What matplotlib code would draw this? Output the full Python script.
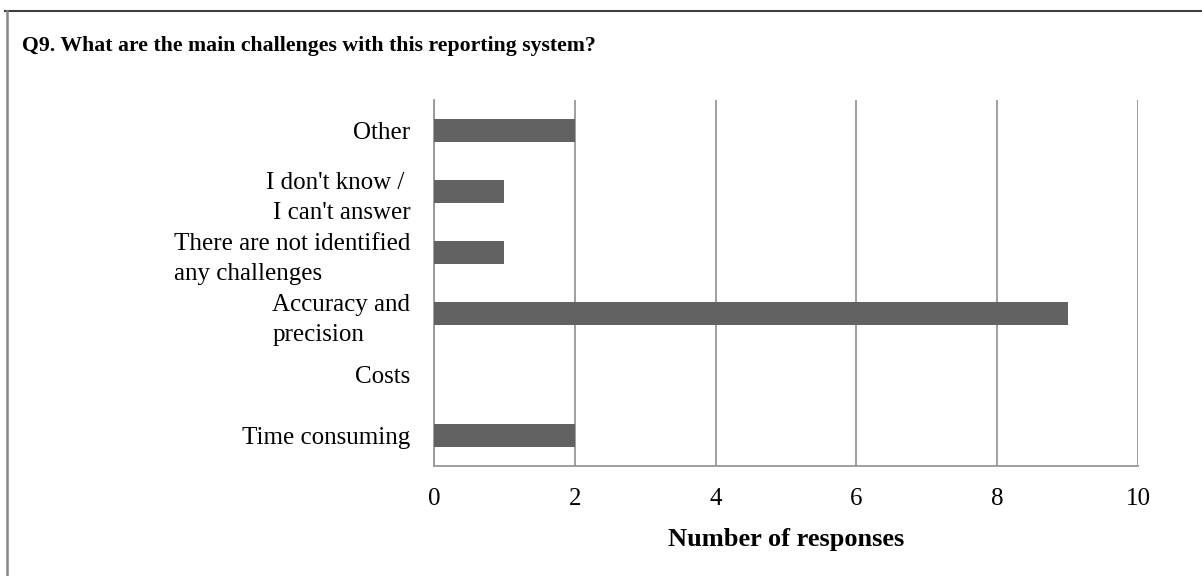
import matplotlib
matplotlib.use("Agg")
import matplotlib.pyplot as plt
from matplotlib.lines import Line2D

categories = [
    "Time consuming",
    "Costs",
    "Accuracy and\nprecision",
    "There are not identified\nany challenges",
    "I don't know / \nI can't answer",
    "Other",
]
responses = [2, 0, 9, 1, 1, 2]
x_ticks = [0, 2, 4, 6, 8, 10]

plt.rcParams["font.family"] = ["Liberation Serif", "DejaVu Serif"]

W, H = 1202, 576
fig = plt.figure(figsize=(W / 100, H / 100), dpi=100)
fig.patch.set_facecolor("white")

ax = fig.add_axes([434 / W, (H - 466) / H, (1138 - 434) / W, (466 - 100) / H])

ypos = list(range(len(categories)))
ax.barh(ypos, responses, height=0.39, color="#626262", edgecolor="none", zorder=3)

ax.set_xlim(0, 10)
ax.set_ylim(-0.5, len(categories) - 0.5)
ax.set_xticks(x_ticks)
ax.set_xticklabels([str(t) for t in x_ticks])
ax.set_yticks(ypos)
ax.set_yticklabels(categories)

ax.grid(axis="x", color="#979797", linewidth=1.3, zorder=1)
ax.set_axisbelow(True)
for side in ("top", "right"):
    ax.spines[side].set_visible(False)
for side in ("left", "bottom"):
    ax.spines[side].set_color("#979797")
    ax.spines[side].set_linewidth(1.3)

ax.tick_params(axis="both", length=0, labelsize=18, colors="black")
ax.tick_params(axis="y", pad=17)
ax.tick_params(axis="x", pad=16)

for lbl, cat in zip(ax.get_yticklabels(), categories):
    if cat.startswith("I don't"):
        lbl.set_multialignment("right")
    else:
        lbl.set_multialignment("left")
    lbl.set_linespacing(1.45)

ax.set_xlabel("Number of responses", fontsize=19, fontweight="bold", labelpad=13)

fig.text(22 / W, 1 - 46 / H, "Q9. What are the main challenges with this reporting system?",
         fontsize=15.7, fontweight="bold", ha="left", va="center")

# frame around the chart area (top and left edges)
fig.add_artist(Line2D([5 / W, 1.0], [1 - 10.5 / H, 1 - 10.5 / H], transform=fig.transFigure,
                      color="#404040", linewidth=1.5))
fig.add_artist(Line2D([6.5 / W, 6.5 / W], [0, 1 - 10.5 / H], transform=fig.transFigure,
                      color="#888888", linewidth=1.8))

fig.savefig("out.png", dpi=100, facecolor="white")
